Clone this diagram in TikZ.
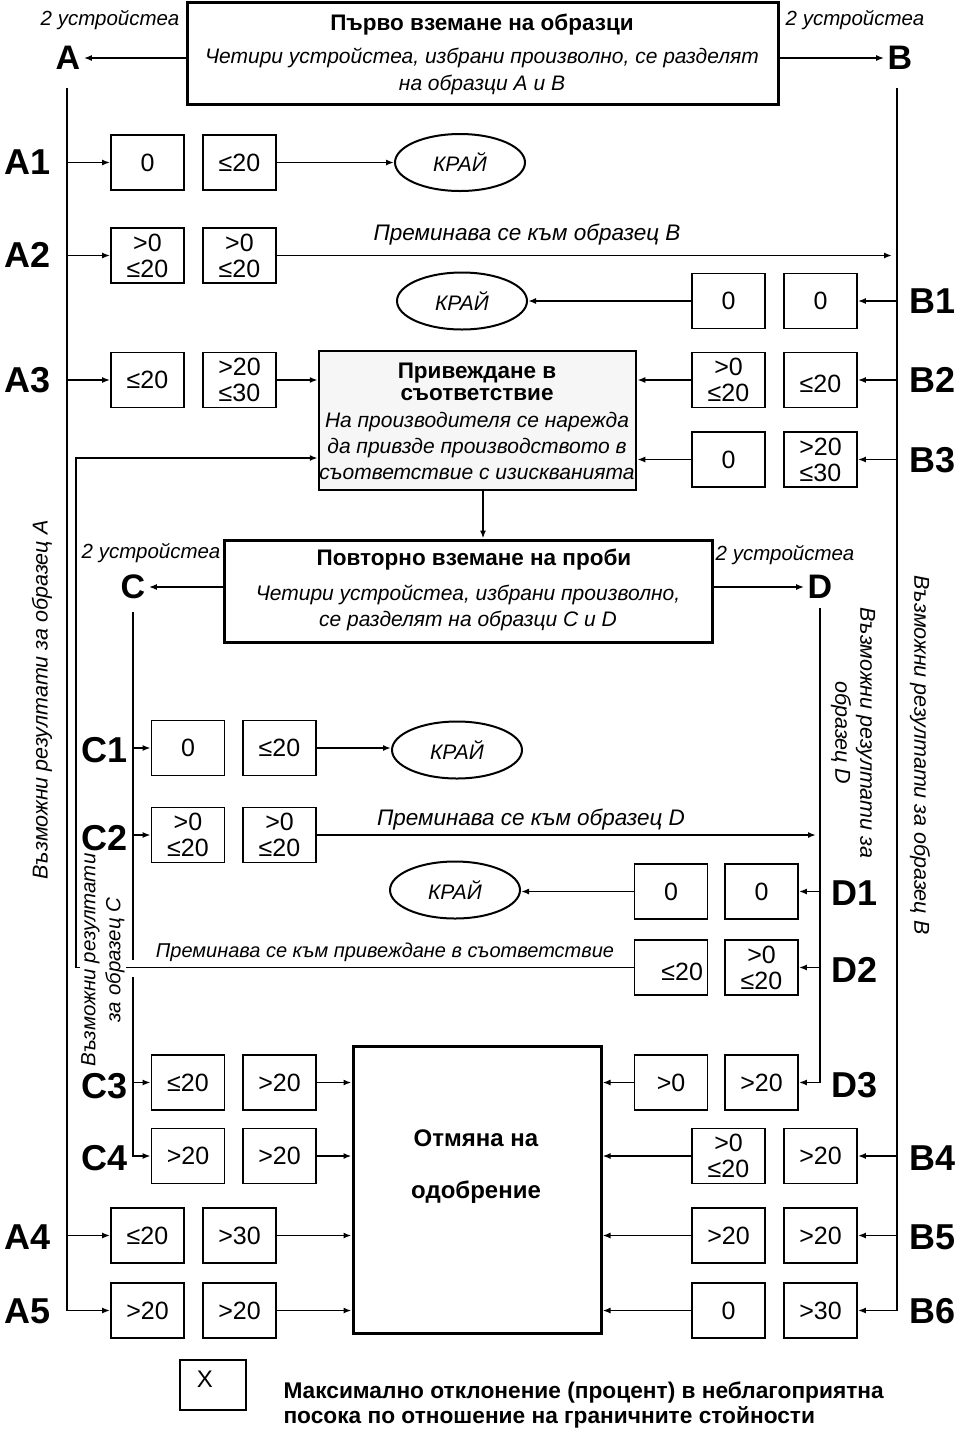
\documentclass[tikz,border=0pt]{standalone}
\usepackage{fontspec}
\setmainfont{Liberation Sans}
\usetikzlibrary{arrows.meta,shapes.geometric}
\newcommand\fsz[2]{\fontsize{#1}{#2}\selectfont}
\begin{document}
\begin{tikzpicture}[x=1pt,y=-1pt,
  conn/.style={line width=1.8pt},
  arr/.style={line width=1.8pt,-{Latex[length=8pt,width=6pt]}},
  val/.style={draw,line width=1.8pt,minimum width=73pt,minimum height=55pt,inner sep=0pt,font=\fsz{25}{26},align=center},
  rowlbl/.style={font=\bfseries\fsz{36}{40}},
  grp/.style={font=\bfseries\fsz{34}{36}},
  dev/.style={font=\itshape\fsz{20.5}{25}},
  lead/.style={font=\itshape\fsz{22.5}{25}},
  para/.style={font=\itshape\fsz{21}{26},align=center},
  ttl/.style={font=\bfseries\fsz{22.5}{22},align=center},
  endnode/.style={draw,ellipse,line width=2pt,minimum width=130pt,minimum height=57pt,inner sep=0pt,font=\itshape\fsz{21}{25}},
  bigbox/.style={draw,line width=3pt,inner sep=0pt},
  side/.style={font=\itshape\fsz{21.5}{25},align=center,fill=white,inner sep=1pt}]
\useasboundingbox (0,0) rectangle (960,1433);

% ---------- top box ----------
\node[bigbox,minimum width=591pt,minimum height=102pt] (top) at (482.5,53) {};
\node[ttl] (t1) at (482,25) {Първо вземане на образци};
\node[para] (t2) at (482,58) {Четири устройстеа, избрани произволно, се разделят};
\node[para] (t3) at (482,85) {на образци A и B};

\node[dev] (nA) at (110,20) {2 устройстеа};
\node[grp] (A) at (68,58) {A};
\node[dev] (nB) at (855,20) {2 устройстеа};
\node[grp] (B) at (900,58) {B};
\draw[arr] (top.west |- A) -- (A.east);
\draw[arr] (top.east |- B) -- (B.west);

\coordinate (Ax) at (67,88);
\coordinate (Bx) at (897,88);

% ---------- A rows ----------
\node[val] (a1l) at (147.5,162.5) {0};
\node[val] (a1r) at (239.5,162.5) {≤20};
\node[endnode] (k1) at (460,162.5) {КРАЙ};

\node[val] (a2l) at (147.5,255.5) {>0\\≤20};
\node[val] (a2r) at (239.5,255.5) {>0\\≤20};
\node[lead] (pB) at (527,235) {Преминава се към образец B};

\node[val] (a3l) at (147.5,380) {≤20};
\node[val] (a3r) at (239.5,380) {>20\\≤30};

\node[val] (a4l) at (147.5,1235.5) {≤20};
\node[val] (a4r) at (239.5,1235.5) {>30};

\node[val] (a5l) at (147.5,1310.5) {>20};
\node[val] (a5r) at (239.5,1310.5) {>20};

% ---------- B rows ----------
\node[val] (b1l) at (728.5,301) {0};
\node[val] (b1r) at (820.5,301) {0};
\node[endnode] (k2) at (462,301) {КРАЙ};

\node[val] (b2l) at (728.5,380) {>0\\≤20};
\node[val] (b2r) at (820.5,380) {\mbox{}\\≤20};

\node[val] (b3l) at (728.5,459.5) {0};
\node[val] (b3r) at (820.5,459.5) {>20\\≤30};

\node[val] (b4l) at (728.5,1156) {>0\\≤20};
\node[val] (b4r) at (820.5,1156) {>20};

\node[val] (b5l) at (728.5,1235.5) {>20};
\node[val] (b5r) at (820.5,1235.5) {>20};

\node[val] (b6l) at (728.5,1310.5) {0};
\node[val] (b6r) at (820.5,1310.5) {>30};

% ---------- conformity box ----------
\node[draw,line width=2.5pt,fill=gray!7,minimum width=317pt,minimum height=139pt,inner sep=0pt] (prv) at (477.5,420.5) {};
\node[ttl] (p1) at (477,382) {Привеждане в\\съответствие};
\node[para] (p2) at (477,446) {На производителя се нарежда\\да привзде производството в\\съответствие с изискванията};

% ---------- second sampling ----------
\node[bigbox,minimum width=488pt,minimum height=102pt] (rep) at (468,591) {};
\node[ttl] (r1) at (474,560) {Повторно вземане на проби};
\node[para] (r2) at (468,608) {Четири устройстеа, избрани произволно,\\се разделят на образци C и D};

\node[dev] (nC) at (151,553) {2 устройстеа};
\node[grp] (C) at (133,587) {C};
\node[dev] (nD) at (785,555) {2 устройстеа};
\node[grp] (D) at (820,587) {D};
\draw[arr] (rep.west |- C) -- (C.east);
\draw[arr] (rep.east |- D) -- (D.west);
\draw[arr] (prv.south -| 483,0) -- (rep.north -| 483,0);

\coordinate (Cx) at (133,612);
\coordinate (Cg1) at (133,960);
\coordinate (Cg2) at (133,977);
\coordinate (Dx) at (820,608);
\coordinate (L1) at (76,458);

% ---------- C rows ----------
\node[val] (c1l) at (188,748) {0};
\node[val] (c1r) at (279.5,748) {≤20};
\node[endnode] (k3) at (457,750) {КРАЙ};

\node[val] (c2l) at (188,835) {>0\\≤20};
\node[val] (c2r) at (279.5,835) {>0\\≤20};
\node[lead] (pD) at (531,820) {Преминава се към образец D};

\node[val] (c3l) at (188,1082.5) {≤20};
\node[val] (c3r) at (279.5,1082.5) {>20};

\node[val] (c4l) at (188,1156) {>20};
\node[val] (c4r) at (279.5,1156) {>20};

% ---------- D rows ----------
\node[val] (d1l) at (671,891.5) {0};
\node[val] (d1r) at (761.5,891.5) {0};
\node[endnode] (k4) at (455,890) {КРАЙ};

\node[val,text width=64pt,align=right] (d2l) at (671,967.5) {\mbox{}\\≤20};
\node[val] (d2r) at (761.5,967.5) {>0\\≤20};
\node[dev,font=\itshape\fsz{20}{24}] (pP) at (385,952) {Преминава се към привеждане в съответствие};

\node[val] (d3l) at (671,1082.5) {>0};
\node[val] (d3r) at (761.5,1082.5) {>20};

% ---------- withdrawal box ----------
\node[bigbox,minimum width=248pt,minimum height=287pt] (otm) at (477,1189.5) {};
\node[ttl,font=\bfseries\fsz{24}{26}] (o1) at (476,1138) {Отмяна на};
\node[ttl,font=\bfseries\fsz{24}{26}] (o2) at (476,1192) {одобрение};

% ---------- main lines ----------
\draw[arr] (Ax) |- (a5l.west);
\foreach \n in {a1l,a2l,a3l,a4l} \draw[arr] (\n.west -| Ax) -- (\n.west);
\draw[arr] (Bx) |- (b6r.east);
\foreach \n in {b1r,b2r,b3r,b4r,b5r} \draw[arr] (\n.east -| Bx) -- (\n.east);
\draw[conn] (Cx) -- (Cg1);
\draw[arr] (Cg2) |- (c4l.west);
\foreach \n in {c1l,c2l,c3l} \draw[arr] (\n.west -| Cx) -- (\n.west);
\draw[arr] (Dx) |- (d3r.east);
\foreach \n in {d1r,d2r} \draw[arr] (\n.east -| Dx) -- (\n.east);

% ---------- outcome connectors ----------
\draw[arr] (a1r.east) -- (k1.west);
\draw[arr,shorten >=5pt] (a2r.east) -- (a2r.east -| Bx);
\draw[arr] (a3r.east) -- (a3r.east -| prv.west);
\draw[arr] (b1l.west) -- (k2.east);
\draw[arr] (b2l.west) -- (b2l.west -| prv.east);
\draw[arr] (b3l.west) -- (b3l.west -| prv.east);
\draw[arr] (c1r.east) -- (c1r.east -| k3.west);
\draw[arr,shorten >=4pt] (c2r.east) -- (c2r.east -| Dx);
\draw[arr] (d1l.west) -- (d1l.west -| k4.east);
\draw[arr] (d2l.west) -| (L1) -- (L1 -| prv.west);
\foreach \n in {c3r,c4r,a4r,a5r} \draw[arr] (\n.east) -- (\n.east -| otm.west);
\foreach \n in {d3l,b4l,b5l,b6l} \draw[arr] (\n.west) -- (\n.west -| otm.east);

% ---------- side labels ----------
\node[side,rotate=90] (sA) at (42,700) {Възможни резултати за образец A};
\node[side,rotate=-90] (sB) at (920,755) {Възможни резултати за образец B};
\node[side,rotate=-90] (sD) at (853,733) {Възможни резултати за\\образец D};
\node[side,rotate=90,font=\itshape\fsz{20.5}{25}] (sC) at (103,960) {Възможни резултати\\за образец C};

% ---------- row labels ----------
\node[rowlbl] (lA1) at (28,162) {A1};
\node[rowlbl] (lA2) at (28,255) {A2};
\node[rowlbl] (lA3) at (28,380) {A3};
\node[rowlbl] (lA4) at (28,1237) {A4};
\node[rowlbl] (lA5) at (28,1311) {A5};
\node[rowlbl] (lB1) at (933,301) {B1};
\node[rowlbl] (lB2) at (933,380) {B2};
\node[rowlbl] (lB3) at (933,460) {B3};
\node[rowlbl] (lB4) at (933,1158) {B4};
\node[rowlbl] (lB5) at (933,1237) {B5};
\node[rowlbl] (lB6) at (933,1311) {B6};
\node[rowlbl] (lC1) at (105,750) {C1};
\node[rowlbl] (lC2) at (105,838) {C2};
\node[rowlbl] (lC3) at (105,1086) {C3};
\node[rowlbl] (lC4) at (105,1158) {C4};
\node[rowlbl] (lD1) at (855,893) {D1};
\node[rowlbl] (lD2) at (855,970) {D2};
\node[rowlbl] (lD3) at (855,1085) {D3};

% ---------- legend ----------
\node[draw,line width=1.8pt,minimum width=66pt,minimum height=50pt,inner sep=0pt] (leg) at (213,1385) {};
\node[font=\fsz{24}{26}] (legx) at (205,1379) {X};
\node[anchor=west,font=\bfseries\fsz{22.7}{25},align=left] (legt) at (280,1405) {Максимално отклонение (процент) в неблагоприятна\\посока по отношение на граничните стойности};
\end{tikzpicture}
\end{document}
